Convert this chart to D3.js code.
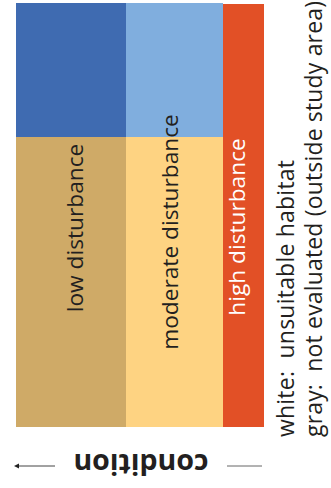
<!DOCTYPE html>
<html><head><meta charset="utf-8">
<script src="https://cdn.jsdelivr.net/npm/d3@7"></script>
<style>html,body{margin:0;padding:0;background:#fff;}svg{display:block;}</style>
</head><body><svg id="c" width="331" height="488"></svg>
<script>
// disturbance classes (columns) and their relative extents
const disturbance = ["low disturbance", "moderate disturbance", "high disturbance"];
const disturbanceExtent = [110, 97, 41];
// condition classes (rows, top = better condition) and relative extents
const condition = ["good", "poor"];
const conditionExtent = [134, 290];
// cell colours by [condition][disturbance]
const cellColors = [
  ["#3F6BB1", "#80AEDE", "#E25026"],
  ["#CFAA67", "#FED382", "#E25026"]
];
const labelColors = ["#231f20", "#231f20", "#ffffff"];
const notes = ["white:  unsuitable habitat", "gray:  not evaluated (outside study area)"];
const axisTitle = "condition";

const svg = d3.select("#c");
const font = "'Open Sans', sans-serif";

const colEdges = d3.cumsum([0, ...disturbanceExtent]);
const rowEdges = d3.cumsum([0, ...conditionExtent]);
const x = d3.scaleLinear().domain([0, colEdges[colEdges.length - 1]]).range([16, 264]);
const y = d3.scaleLinear().domain([0, rowEdges[rowEdges.length - 1]]).range([3, 427]);

const cells = [];
condition.forEach((c, ri) => disturbance.forEach((d, ci) => {
  cells.push({ri, ci, color: cellColors[ri][ci]});
}));
svg.append("g").selectAll("rect").data(cells.filter(c => c.ci < 2)).join("rect")
  .attr("x", d => x(colEdges[d.ci]))
  .attr("width", d => x(colEdges[d.ci + 1]) - x(colEdges[d.ci]))
  .attr("y", d => y(rowEdges[d.ri]))
  .attr("height", d => y(rowEdges[d.ri + 1]) - y(rowEdges[d.ri]))
  .attr("fill", d => d.color);
// high disturbance: one block spanning all condition classes
svg.append("rect")
  .attr("x", x(colEdges[2])).attr("width", x(colEdges[3]) - x(colEdges[2]))
  .attr("y", y(0) + 1).attr("height", y(rowEdges[2]) - y(0) - 1)
  .attr("fill", cellColors[0][2]);

// column labels, rotated (baseline x, centre y)
const labelBaseX = [83, 178, 245];
const labelCenterY = [228, 232, 227];
svg.append("g").selectAll("text").data(disturbance).join("text")
  .attr("transform", (d, i) => `translate(${labelBaseX[i]},${labelCenterY[i]}) rotate(-90)`)
  .attr("text-anchor", "middle")
  .attr("font-family", font)
  .attr("font-size", 22.7)
  .attr("fill", (d, i) => labelColors[i])
  .text(d => d);

// notes
const noteX = [294, 322];
const noteLen = [277, 436];
svg.append("g").selectAll("text").data(notes).join("text")
  .attr("transform", (d, i) => `translate(${noteX[i]},437) rotate(-90)`)
  .attr("font-family", font)
  .attr("font-size", 23)
  .attr("fill", "#231f20")
  .attr("textLength", (d, i) => noteLen[i])
  .attr("lengthAdjust", "spacing")
  .style("white-space", "pre")
  .text(d => d);

// axis title, upside down
svg.append("text")
  .attr("transform", "translate(141,454) rotate(180)")
  .attr("text-anchor", "middle")
  .attr("font-family", font)
  .attr("font-weight", "bold")
  .attr("font-size", 28.5)
  .attr("fill", "#231f20")
  .text(axisTitle);

// arrow lines
svg.append("line").attr("x1", 55).attr("x2", 16).attr("y1", 466).attr("y2", 466)
  .attr("stroke", "#444").attr("stroke-width", 1);
svg.append("path").attr("d", "M14,466 L19,463.5 L19,468.5 Z").attr("fill", "#222");
svg.append("line").attr("x1", 227).attr("x2", 262).attr("y1", 466).attr("y2", 466)
  .attr("stroke", "#666").attr("stroke-width", 1);
</script>
</body></html>
